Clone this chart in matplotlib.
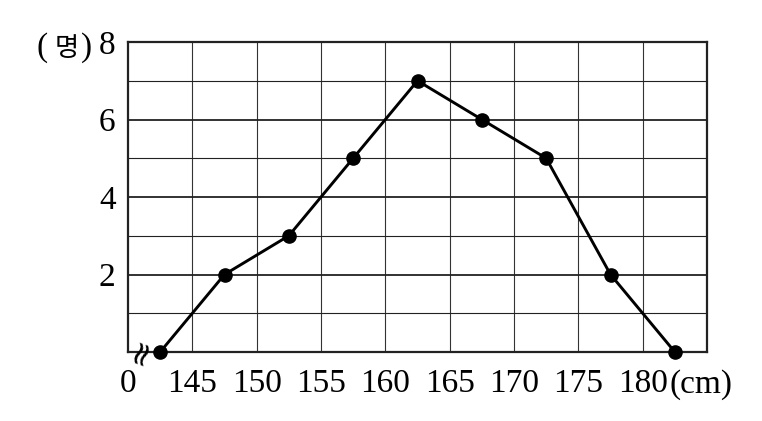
import matplotlib
matplotlib.use("Agg")
import matplotlib.pyplot as plt

# class midpoints (cm) and counts (people)
heights = [142.5, 147.5, 152.5, 157.5, 162.5, 167.5, 172.5, 177.5, 182.5]
counts = [0, 2, 3, 5, 7, 6, 5, 2, 0]

x_ticks = [140, 145, 150, 155, 160, 165, 170, 175, 180]
x_labels = ["0", "145", "150", "155", "160", "165", "170", "175", "180"]
y_ticks = [2, 4, 6, 8]

serif = ["Liberation Serif", "DejaVu Serif"]

fig = plt.figure(figsize=(7.62, 4.21), dpi=100)
ax = fig.add_axes([128 / 762, 1 - 352 / 421, 579 / 762, 310 / 421])

ax.set_xlim(140, 185)
ax.set_ylim(0, 8)

# grid: thin lines every 5 cm / 1 person, a bit heavier on even counts
for xv in x_ticks[1:]:
    ax.axvline(xv, color="#333333", lw=0.8, zorder=1)
for yv in range(1, 8):
    ax.axhline(yv, color="#222222", lw=1.3 if yv % 2 == 0 else 0.8, zorder=1)

ax.plot(heights, counts, color="black", lw=2.1, marker="o", markersize=9.5,
        clip_on=False, zorder=3)

for s in ax.spines.values():
    s.set_linewidth(1.6)
    s.set_color("#222222")

ax.set_xticks(x_ticks)
ax.set_xticklabels(x_labels, fontfamily=serif, fontsize=24)
ax.set_yticks(y_ticks)
ax.set_yticklabels([str(v) for v in y_ticks], fontfamily=serif, fontsize=24)
ax.tick_params(length=0)
ax.tick_params(axis="x", pad=12)
ax.tick_params(axis="y", pad=9)

# axis break mark near the origin
ax.text(140.95, 0.02, "≈", rotation=70, fontsize=24, ha="center", va="center",
        fontfamily="DejaVu Sans", zorder=4)

fig.text(701 / 762, 1 - 393 / 421, "(cm)", fontfamily=serif, fontsize=24,
         ha="center", va="baseline")

# unit label (명) at the top of the y axis
unit_y = 1 - 48 / 421
fig.text(42 / 762, unit_y, "(", fontfamily=serif, fontsize=24, ha="center", va="center")
fig.text(67 / 762, unit_y, "명", fontfamily=["Noto Sans CJK KR"], fontsize=19,
         ha="center", va="center")
fig.text(87 / 762, unit_y, ")", fontfamily=serif, fontsize=24, ha="center", va="center")

fig.savefig("out.png", dpi=100, facecolor="white")
